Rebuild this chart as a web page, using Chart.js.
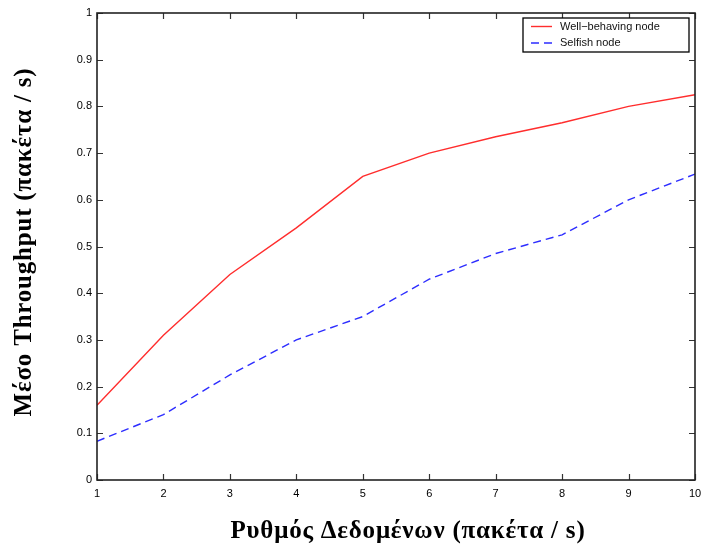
<!DOCTYPE html>
<html>
<head>
<meta charset="utf-8">
<script src="https://cdn.jsdelivr.net/npm/chart.js@4/dist/chart.umd.min.js"></script>
<style>
html,body{margin:0;padding:0;background:#fff;}
canvas{display:block;}
</style>
</head>
<body>
<canvas id="c" width="704" height="550"></canvas>
<script>
const rates = [1, 2, 3, 4, 5, 6, 7, 8, 9, 10];
const wellBehaving = [0.16, 0.31, 0.44, 0.54, 0.65, 0.70, 0.735, 0.765, 0.80, 0.825];
const selfish = [0.083, 0.14, 0.225, 0.30, 0.35, 0.43, 0.485, 0.525, 0.60, 0.655];
const seriesNames = ['Well\u2212behaving node', 'Selfish node'];
const xTitle = 'Ρυθμός Δεδομένων (πακέτα / s)';
const yTitle = 'Μέσο Throughput (πακέτα / s)';

const toPoints = (ys) => rates.map((x, i) => ({x: x, y: ys[i]}));

const framePlugin = {
  id: 'frame',
  afterDraw(chart) {
    const {ctx, chartArea: a, scales} = chart;
    ctx.save();
    // ticks inward on all sides
    ctx.strokeStyle = '#333';
    ctx.lineWidth = 1.2;
    const tl = 6;
    ctx.beginPath();
    scales.x.ticks.forEach(t => {
      const px = Math.round(scales.x.getPixelForValue(t.value)) + 0.5;
      ctx.moveTo(px, a.bottom); ctx.lineTo(px, a.bottom - tl);
      ctx.moveTo(px, a.top); ctx.lineTo(px, a.top + tl);
    });
    scales.y.ticks.forEach(t => {
      const py = Math.round(scales.y.getPixelForValue(t.value)) + 0.5;
      ctx.moveTo(a.left, py); ctx.lineTo(a.left + tl, py);
      ctx.moveTo(a.right, py); ctx.lineTo(a.right - tl, py);
    });
    ctx.stroke();
    // frame
    ctx.strokeStyle = '#222';
    ctx.lineWidth = 1.6;
    ctx.strokeRect(a.left, a.top, a.right - a.left, a.bottom - a.top);

    // legend
    const lx = 523, ly = 18, lw = 166, lh = 34;
    ctx.fillStyle = '#fff';
    ctx.fillRect(lx, ly, lw, lh);
    ctx.strokeStyle = '#000';
    ctx.lineWidth = 1.3;
    ctx.strokeRect(lx, ly, lw, lh);
    ctx.font = '11px "Liberation Sans", Arial, sans-serif';
    ctx.textBaseline = 'middle';
    ctx.textAlign = 'left';
    chart.data.datasets.forEach((ds, i) => {
      const yy = ly + 8.5 + i * 16.5;
      ctx.strokeStyle = ds.borderColor;
      ctx.lineWidth = ds.borderWidth;
      ctx.setLineDash(ds.borderDash || []);
      ctx.beginPath();
      ctx.moveTo(lx + 8, yy); ctx.lineTo(lx + 29, yy);
      ctx.stroke();
      ctx.setLineDash([]);
      ctx.fillStyle = '#111';
      ctx.fillText(ds.label, lx + 37, yy);
    });

    // axis titles
    ctx.fillStyle = '#000';
    ctx.font = 'bold 25px "Liberation Serif", "Times New Roman", serif';
    if ('letterSpacing' in ctx) ctx.letterSpacing = '0.8px';
    ctx.textAlign = 'center';
    ctx.textBaseline = 'middle';
    ctx.fillText(xTitle, 408, 532);
    ctx.translate(25, 242);
    ctx.rotate(-Math.PI / 2);
    ctx.fillText(yTitle, 0, 0);
    ctx.restore();
  }
};

new Chart(document.getElementById('c'), {
  type: 'line',
  data: {
    datasets: [
      {label: seriesNames[0], data: toPoints(wellBehaving), borderColor: 'rgb(255,45,45)', borderWidth: 1.4, pointRadius: 0, tension: 0, fill: false},
      {label: seriesNames[1], data: toPoints(selfish), borderColor: 'rgb(45,45,255)', borderWidth: 1.4, borderDash: [8, 5], pointRadius: 0, tension: 0, fill: false}
    ]
  },
  options: {
    responsive: false,
    animation: false,
    layout: {padding: {top: 13, right: 9, left: 0, bottom: 0}},
    plugins: {legend: {display: false}, tooltip: {enabled: false}},
    scales: {
      x: {
        type: 'linear', min: 1, max: 10,
        afterFit(s) { s.height = 70; s.paddingLeft = 0; s.paddingRight = 0; },
        grid: {display: false, drawTicks: false},
        border: {display: false},
        ticks: {stepSize: 1, padding: 7, color: '#000', font: {family: '"Liberation Sans", Arial, sans-serif', size: 11}, maxRotation: 0}
      },
      y: {
        type: 'linear', min: 0, max: 1,
        afterFit(s) { s.width = 97; s.paddingTop = 0; s.paddingBottom = 0; },
        grid: {display: false, drawTicks: false},
        border: {display: false},
        ticks: {stepSize: 0.1, padding: 5, color: '#000', font: {family: '"Liberation Sans", Arial, sans-serif', size: 11},
          callback: v => String(+v.toFixed(1))}
      }
    }
  },
  plugins: [framePlugin]
});
</script>
</body>
</html>
